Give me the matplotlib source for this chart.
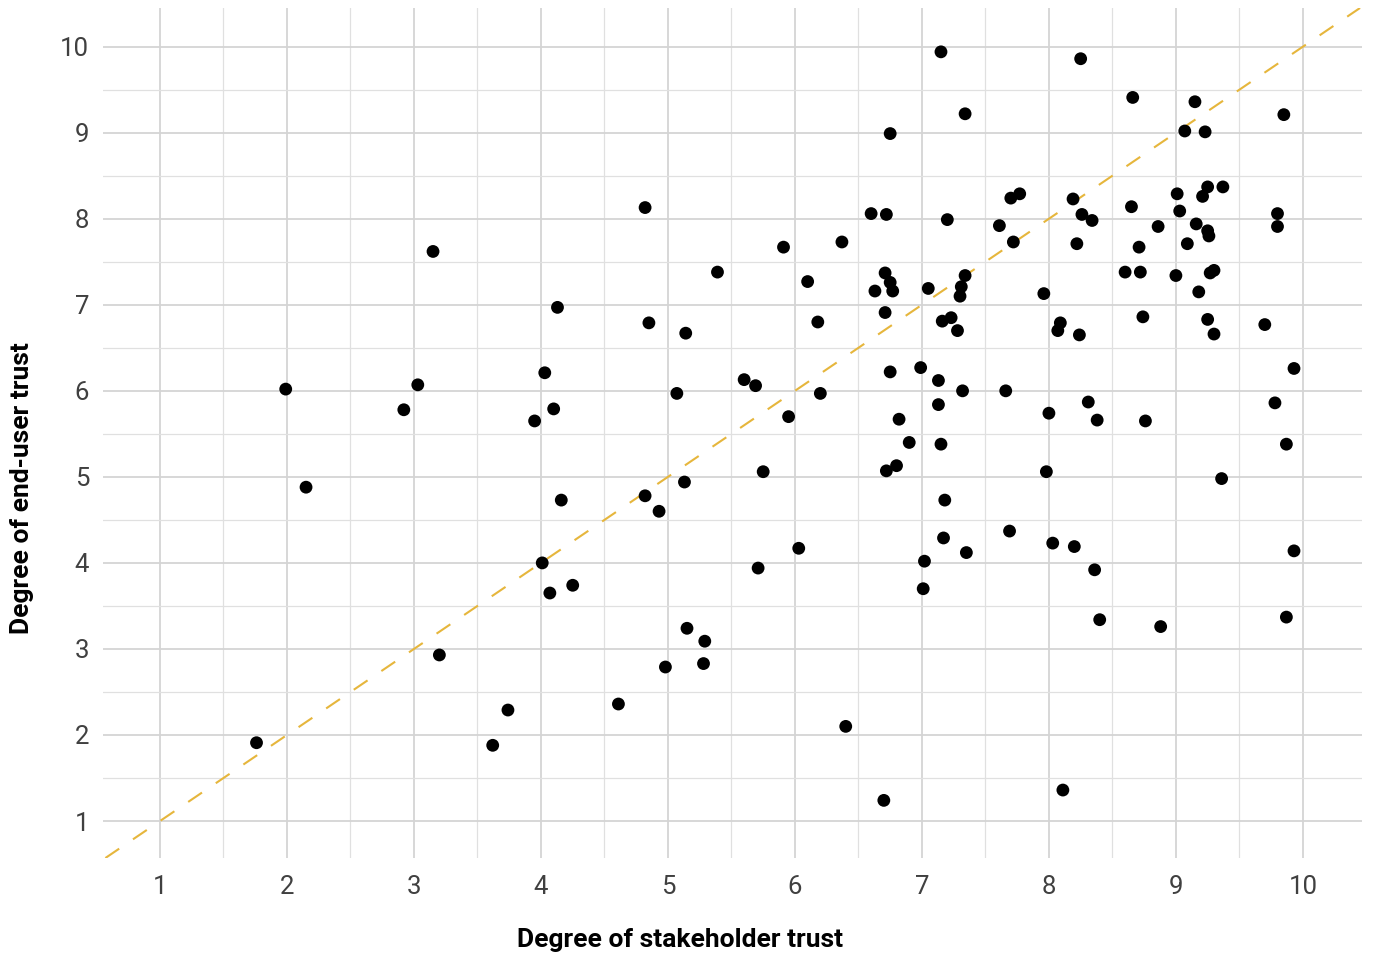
import matplotlib
matplotlib.use("Agg")
import matplotlib.pyplot as plt
from matplotlib.ticker import MultipleLocator

# ── Data: one dot per respondent (stakeholder trust, end-user trust) ──
stakeholder = [
    1.76, 1.99, 2.15, 2.92, 3.03, 3.15, 3.20, 3.62, 3.74, 3.95,
    4.03, 4.10, 4.13, 4.16, 4.01, 4.07, 4.25, 4.61, 4.82, 4.82,
    4.85, 4.93, 4.98, 5.07, 5.13, 5.14, 5.15, 5.28, 5.29, 5.39,
    5.60, 5.69, 5.71, 5.75, 5.91, 5.95, 6.03, 6.10, 6.18, 6.20,
    6.37, 6.40, 6.60, 6.63, 6.71, 6.72, 6.71, 6.75, 6.75, 6.77,
    6.75, 6.70, 6.72, 6.80, 6.82, 6.90, 6.99, 7.01, 7.02, 7.05,
    7.13, 7.13, 7.15, 7.16, 7.15, 7.17, 7.18, 7.20, 7.23, 7.28,
    7.30, 7.31, 7.34, 7.32, 7.34, 7.35, 7.61, 7.66, 7.69, 7.70,
    7.72, 7.77, 7.96, 7.98, 8.00, 8.03, 8.07, 8.09, 8.11, 8.19,
    8.20, 8.22, 8.24, 8.25, 8.26, 8.31, 8.34, 8.36, 8.38, 8.40,
    8.60, 8.65, 8.66, 8.71, 8.72, 8.74, 8.76, 8.86, 8.88, 9.00,
    9.01, 9.03, 9.07, 9.09, 9.15, 9.16, 9.18, 9.21, 9.23, 9.25,
    9.25, 9.26, 9.25, 9.27, 9.30, 9.30, 9.36, 9.37, 9.70, 9.78,
    9.80, 9.80, 9.85, 9.87, 9.87, 9.93, 9.93,
]
end_user = [
    1.91, 6.02, 4.88, 5.78, 6.07, 7.62, 2.93, 1.88, 2.29, 5.65,
    6.21, 5.79, 6.97, 4.73, 4.00, 3.65, 3.74, 2.36, 4.78, 8.13,
    6.79, 4.60, 2.79, 5.97, 4.94, 6.67, 3.24, 2.83, 3.09, 7.38,
    6.13, 6.06, 3.94, 5.06, 7.67, 5.70, 4.17, 7.27, 6.80, 5.97,
    7.73, 2.10, 8.06, 7.16, 7.37, 8.05, 6.91, 7.26, 8.99, 7.16,
    6.22, 1.24, 5.07, 5.13, 5.67, 5.40, 6.27, 3.70, 4.02, 7.19,
    6.12, 5.84, 5.38, 6.81, 9.94, 4.29, 4.73, 7.99, 6.85, 6.70,
    7.10, 7.21, 7.34, 6.00, 9.22, 4.12, 7.92, 6.00, 4.37, 8.24,
    7.73, 8.29, 7.13, 5.06, 5.74, 4.23, 6.70, 6.79, 1.36, 8.23,
    4.19, 7.71, 6.65, 9.86, 8.05, 5.87, 7.98, 3.92, 5.66, 3.34,
    7.38, 8.14, 9.41, 7.67, 7.38, 6.86, 5.65, 7.91, 3.26, 7.34,
    8.29, 8.09, 9.02, 7.71, 9.36, 7.94, 7.15, 8.26, 9.01, 8.37,
    7.86, 7.80, 6.83, 7.37, 7.40, 6.66, 4.98, 8.37, 6.77, 5.86,
    8.06, 7.91, 9.21, 5.38, 3.37, 6.26, 4.14,
]

ticks = list(range(1, 11))

GRID = "#d4d4d4"
GOLD = "#e6b63c"
TEXT = "#404040"

fig = plt.figure(figsize=(13.75, 9.59), dpi=100)
ax = fig.add_axes([0.0749, 0.1053, 0.9156, 0.8864])

ax.set_xlim(0.551, 10.465)
ax.set_ylim(0.57, 10.45)

# ── Grid: major at integers, minor at halves ──
ax.xaxis.set_major_locator(MultipleLocator(1))
ax.yaxis.set_major_locator(MultipleLocator(1))
ax.xaxis.set_minor_locator(MultipleLocator(0.5))
ax.yaxis.set_minor_locator(MultipleLocator(0.5))
ax.grid(which="major", color=GRID, linewidth=1.3)
ax.grid(which="minor", color="#e0e0e0", linewidth=0.9)
ax.set_axisbelow(True)
for s in ax.spines.values():
    s.set_visible(False)
ax.tick_params(which="both", length=0)
ax.tick_params(axis="x", pad=12, labelsize=18.5, labelcolor=TEXT)
ax.tick_params(axis="y", pad=10, labelsize=18.5, labelcolor=TEXT)
ax.set_xticks(ticks)
ax.set_yticks(ticks)
for lab in ax.get_xticklabels() + ax.get_yticklabels():
    lab.set_fontfamily("Roboto")
    lab.set_fontweight("normal")

# ── Reference line y = x ──
ax.axline((1, 1), slope=1, color=GOLD, linewidth=1.5, dashes=(8, 8), zorder=2)

ax.scatter(stakeholder, end_user, s=85, color="black", edgecolors="none", zorder=3)

# axis titles sit centred on the figure, not on the plot panel
fig.text(0.4945, 0.0198, "Degree of stakeholder trust", fontsize=19,
         fontweight="bold", family="Roboto", color="black",
         ha="center", va="center")
fig.text(0.016, 0.491, "Degree of end-user trust", fontsize=19,
         fontweight="bold", family="Roboto", color="black",
         ha="center", va="center", rotation=90)

fig.savefig("out.png", dpi=100, facecolor="white")
